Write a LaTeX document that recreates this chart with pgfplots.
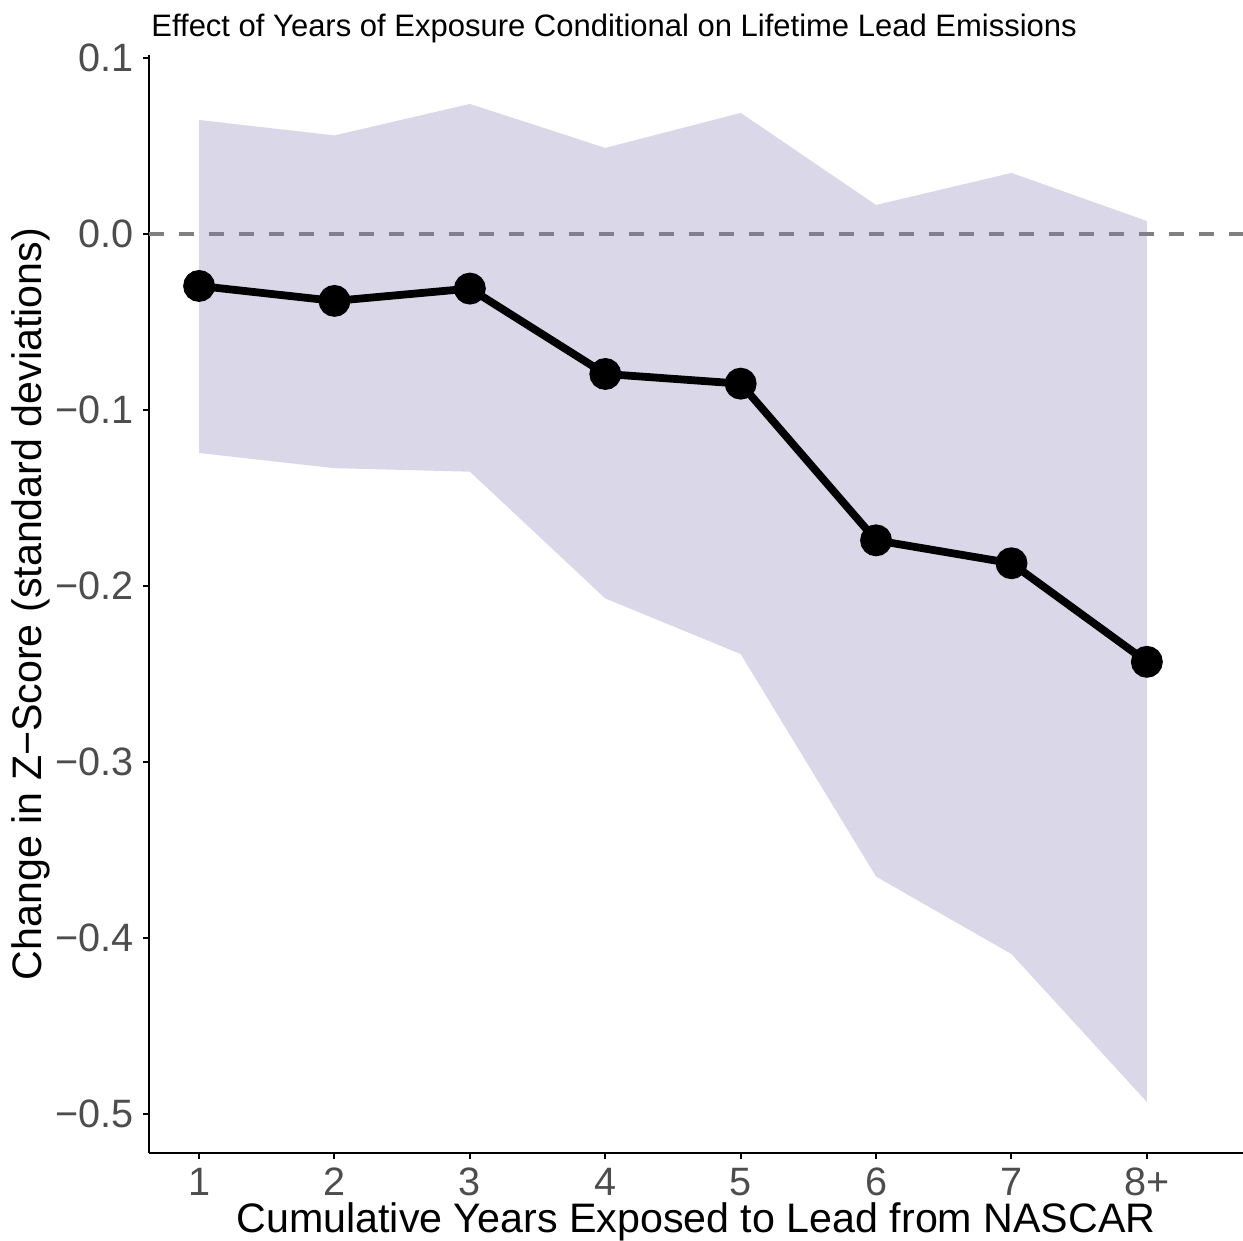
\documentclass[border=0pt]{standalone}
\usepackage{fontspec}
\setmainfont{Liberation Sans}
\usepackage{pgfplots}
\pgfplotsset{compat=1.18}

\definecolor{ribbon}{RGB}{132,125,178}
\definecolor{ticktext}{RGB}{77,77,77}
\definecolor{refline}{RGB}{128,128,128}

\begin{document}
\begin{tikzpicture}
\begin{axis}[
    scale only axis,
    width=547pt, height=549pt,
    xmin=0.63, xmax=8.71,
    ymin=-0.522, ymax=0.1017,
    axis x line*=bottom,
    axis y line*=left,
    axis line style={line width=1pt, -},
    xtick={1,2,3,4,5,6,7,8},
    xticklabels={1,2,3,4,5,6,7,8+},
    ytick={-0.5,-0.4,-0.3,-0.2,-0.1,0,0.1},
    yticklabels={−0.5,−0.4,−0.3,−0.2,−0.1,0.0,0.1},
    tick align=outside,
    major tick length=3pt,
    tick style={line width=1pt, black},
    ticklabel style={font=\fontsize{19.8}{22}\selectfont, text=ticktext},
    xticklabel style={yshift=-1pt},
    yticklabel style={xshift=-1pt},
    xlabel={Cumulative Years Exposed to Lead from NASCAR},
    ylabel={Change in Z−Score (standard deviations)},
    label style={font=\fontsize{20.6}{24}\selectfont},
    xlabel style={at={(rel axis cs:0.5,0)}, anchor=base, yshift=-40pt},
    ylabel style={yshift=-4pt},
    clip=false,
]
\coordinate (bl) at (rel axis cs:0,0);
\coordinate (tr) at (rel axis cs:1,1);
\addplot[refline, line width=2pt, dash pattern=on 7.5pt off 7.5pt, forget plot]
    coordinates {(0.63,0) (8.71,0)};
\addplot[draw=none, fill=ribbon, fill opacity=0.3, forget plot] coordinates {
    (1,0.0648) (2,0.0560) (3,0.0739) (4,0.0489) (5,0.0688) (6,0.0165) (7,0.0347) (8,0.0074)
    (8,-0.493) (7,-0.409) (6,-0.365) (5,-0.2386) (4,-0.207) (3,-0.135) (2,-0.133) (1,-0.1244)
} -- cycle;
\addplot[black, line width=3.9pt, mark=*, mark size=6pt, mark options={solid}] coordinates {
    (1,-0.0295) (2,-0.0380) (3,-0.0310) (4,-0.0795) (5,-0.0850) (6,-0.1740) (7,-0.1870) (8,-0.2430)
};
\node[anchor=base west, font=\fontsize{15.5}{18}\selectfont, inner sep=0pt]
    at (rel axis cs:0,1) [yshift=9pt, xshift=1pt] {Effect of Years of Exposure Conditional on Lifetime Lead Emissions};
\end{axis}
\pgfresetboundingbox
\path[use as bounding box] ([xshift=-74.5pt,yshift=-44pt]bl) rectangle ([yshift=27.5pt]tr);
\end{tikzpicture}
\end{document}
